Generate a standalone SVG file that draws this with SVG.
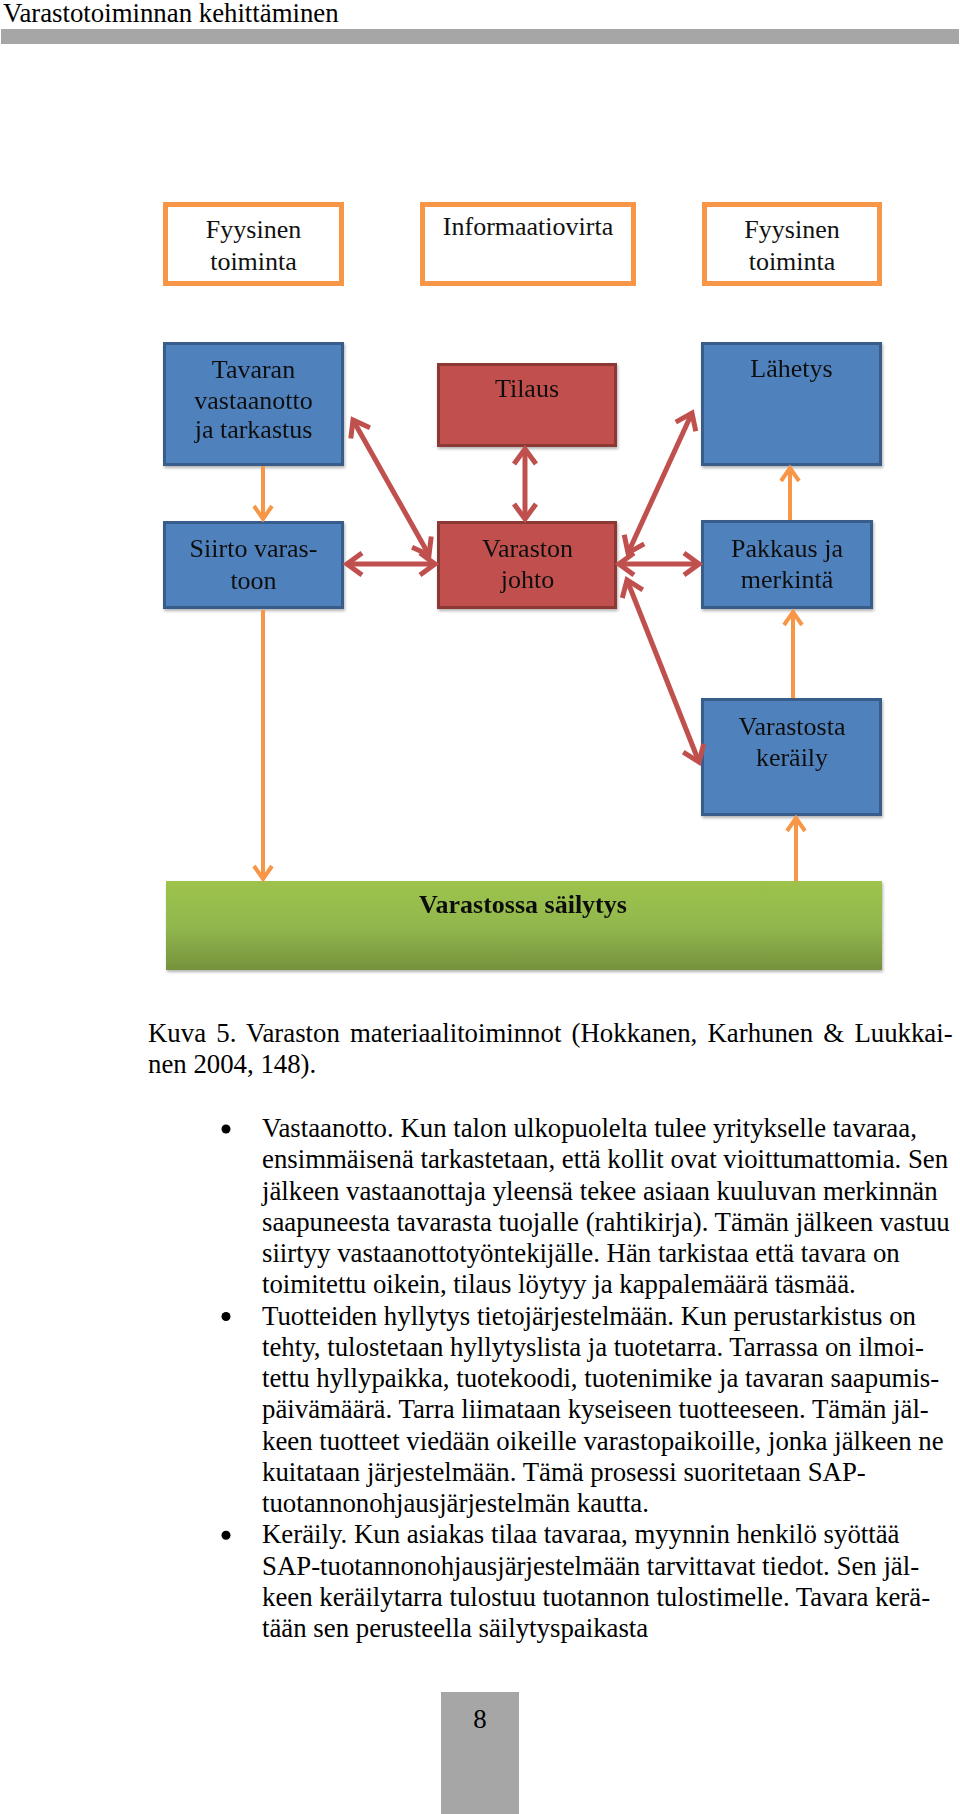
<svg xmlns="http://www.w3.org/2000/svg" width="960" height="1814" viewBox="0 0 960 1814">
<style>
.body{font-family:"Liberation Serif","Times New Roman",serif;font-size:26.8px;fill:#000}
.lbl{font-family:"Liberation Serif","Times New Roman",serif;font-size:26px;fill:#111;text-anchor:middle}
.ob{fill:#fff;stroke:#f79646;stroke-width:5}
.bb{fill:#4f81bd;stroke:#385d8a;stroke-width:3}
.rb{fill:#c0504d;stroke:#8c3836;stroke-width:3}
.oc{fill:none;stroke:#f79646;stroke-width:4}
.rc{fill:none;stroke:#c0504d;stroke-width:5}
</style>
<defs>
<filter id="sh" x="-10%" y="-10%" width="125%" height="130%">
<feDropShadow dx="1" dy="2" stdDeviation="1.5" flood-color="#000" flood-opacity="0.3"/>
</filter>
<linearGradient id="gg" x1="0" y1="0" x2="0" y2="1">
<stop offset="0" stop-color="#9dc34c"/>
<stop offset="0.5" stop-color="#92b84e"/>
<stop offset="1" stop-color="#75923c"/>
</linearGradient>
<marker id="ao" viewBox="-16 -12 20 24" markerWidth="20" markerHeight="24" refX="0" refY="0" markerUnits="userSpaceOnUse" orient="auto-start-reverse">
<path d="M-13,-9 L0,0 L-13,9" fill="none" stroke="#f79646" stroke-width="4" stroke-linejoin="miter"/>
</marker>
<marker id="ar" viewBox="-20 -14 24 28" markerWidth="24" markerHeight="28" refX="0" refY="0" markerUnits="userSpaceOnUse" orient="auto-start-reverse">
<path d="M-15,-11 L0,0 L-15,11" fill="none" stroke="#c0504d" stroke-width="5" stroke-linejoin="miter"/>
</marker>
</defs>
<rect width="960" height="1814" fill="#fff"/>

<g id="header">
<text class="body" x="3" y="22">Varastotoiminnan kehittäminen</text>
<rect x="1" y="29" width="958" height="15" fill="#a6a6a6"/>
</g>

<g id="n-fyys1"><rect class="ob" x="165.5" y="204.5" width="176" height="79"/><text class="lbl" x="253.5" y="238">Fyysinen</text><text class="lbl" x="253.5" y="270">toiminta</text></g>
<g id="n-info"><rect class="ob" x="422.5" y="204.5" width="211" height="79"/><text class="lbl" x="528" y="235">Informaatiovirta</text></g>
<g id="n-fyys2"><rect class="ob" x="704.5" y="204.5" width="175" height="79"/><text class="lbl" x="792" y="238">Fyysinen</text><text class="lbl" x="792" y="270">toiminta</text></g>

<g id="n-tavaran" filter="url(#sh)"><rect class="bb" x="164.5" y="343.5" width="178" height="121"/><text class="lbl" x="253.5" y="378">Tavaran</text><text class="lbl" x="253.5" y="409">vastaanotto</text><text class="lbl" x="253.5" y="438">ja tarkastus</text></g>
<g id="n-tilaus" filter="url(#sh)"><rect class="rb" x="438.5" y="364.5" width="177" height="81"/><text class="lbl" x="527" y="397">Tilaus</text></g>
<g id="n-lahetys" filter="url(#sh)"><rect class="bb" x="702.5" y="343.5" width="178" height="121"/><text class="lbl" x="791.5" y="377">Lähetys</text></g>
<g id="n-siirto" filter="url(#sh)"><rect class="bb" x="164.5" y="522.5" width="178" height="85"/><text class="lbl" x="253.5" y="557">Siirto varas-</text><text class="lbl" x="253.5" y="589">toon</text></g>
<g id="n-johto" filter="url(#sh)"><rect class="rb" x="438.5" y="522.5" width="177" height="85"/><text class="lbl" x="527.5" y="557">Varaston</text><text class="lbl" x="527.5" y="588">johto</text></g>
<g id="n-pakkaus" filter="url(#sh)"><rect class="bb" x="702.5" y="521.5" width="169" height="86"/><text class="lbl" x="787" y="557">Pakkaus ja</text><text class="lbl" x="787" y="588">merkintä</text></g>
<g id="n-kerayly" filter="url(#sh)"><rect class="bb" x="702.5" y="699.5" width="178" height="115"/><text class="lbl" x="792" y="735">Varastosta</text><text class="lbl" x="792" y="766">keräily</text></g>
<g id="n-sailytys" filter="url(#sh)"><rect x="166" y="881" width="716" height="89" fill="url(#gg)"/><text class="lbl" x="523" y="913" font-weight="bold">Varastossa säilytys</text></g>

<g id="connectors">
<path class="oc" d="M263,466 L263,519" marker-end="url(#ao)"/>
<path class="oc" d="M263,610 L263,879" marker-end="url(#ao)"/>
<path class="oc" d="M796,881 L796,818" marker-end="url(#ao)"/>
<path class="oc" d="M793,698 L793,612" marker-end="url(#ao)"/>
<path class="oc" d="M790,520 L790,468" marker-end="url(#ao)"/>
<path class="rc" d="M525,449 L525,519" marker-start="url(#ar)" marker-end="url(#ar)"/>
<path class="rc" d="M347,564 L435,564" marker-start="url(#ar)" marker-end="url(#ar)"/>
<path class="rc" d="M619,564 L699,564" marker-start="url(#ar)" marker-end="url(#ar)"/>
<path class="rc" d="M353,420 L429,555" marker-start="url(#ar)" marker-end="url(#ar)"/>
<path class="rc" d="M628,553 L692,413" marker-start="url(#ar)" marker-end="url(#ar)"/>
<path class="rc" d="M627,580 L699,762" marker-start="url(#ar)" marker-end="url(#ar)"/>
</g>

<g id="caption">
<text class="body" x="148" y="1042" word-spacing="3.5">Kuva 5. Varaston materiaalitoiminnot (Hokkanen, Karhunen &amp; Luukkai-</text>
<text class="body" x="148" y="1073">nen 2004, 148).</text>
</g>

<g id="bullets">
<circle cx="226" cy="1129" r="4.5" fill="#000"/>
<circle cx="226" cy="1316.5" r="4.5" fill="#000"/>
<circle cx="226" cy="1535.25" r="4.5" fill="#000"/>
<text class="body" x="262" y="1137">Vastaanotto. Kun talon ulkopuolelta tulee yritykselle tavaraa,</text>
<text class="body" x="262" y="1168.25">ensimmäisenä tarkastetaan, että kollit ovat vioittumattomia. Sen</text>
<text class="body" x="262" y="1199.5">jälkeen vastaanottaja yleensä tekee asiaan kuuluvan merkinnän</text>
<text class="body" x="262" y="1230.75">saapuneesta tavarasta tuojalle (rahtikirja). Tämän jälkeen vastuu</text>
<text class="body" x="262" y="1262">siirtyy vastaanottotyöntekijälle. Hän tarkistaa että tavara on</text>
<text class="body" x="262" y="1293.25">toimitettu oikein, tilaus löytyy ja kappalemäärä täsmää.</text>
<text class="body" x="262" y="1324.5">Tuotteiden hyllytys tietojärjestelmään. Kun perustarkistus on</text>
<text class="body" x="262" y="1355.75">tehty, tulostetaan hyllytyslista ja tuotetarra. Tarrassa on ilmoi-</text>
<text class="body" x="262" y="1387">tettu hyllypaikka, tuotekoodi, tuotenimike ja tavaran saapumis-</text>
<text class="body" x="262" y="1418.25">päivämäärä. Tarra liimataan kyseiseen tuotteeseen. Tämän jäl-</text>
<text class="body" x="262" y="1449.5">keen tuotteet viedään oikeille varastopaikoille, jonka jälkeen ne</text>
<text class="body" x="262" y="1480.75">kuitataan järjestelmään. Tämä prosessi suoritetaan SAP-</text>
<text class="body" x="262" y="1512">tuotannonohjausjärjestelmän kautta.</text>
<text class="body" x="262" y="1543.25">Keräily. Kun asiakas tilaa tavaraa, myynnin henkilö syöttää</text>
<text class="body" x="262" y="1574.5">SAP-tuotannonohjausjärjestelmään tarvittavat tiedot. Sen jäl-</text>
<text class="body" x="262" y="1605.75">keen keräilytarra tulostuu tuotannon tulostimelle. Tavara kerä-</text>
<text class="body" x="262" y="1637">tään sen perusteella säilytyspaikasta</text>
</g>

<g id="pagenum">
<rect x="441" y="1692" width="78" height="122" fill="#a6a6a6"/>
<text class="body" x="480" y="1728" text-anchor="middle">8</text>
</g>
</svg>
